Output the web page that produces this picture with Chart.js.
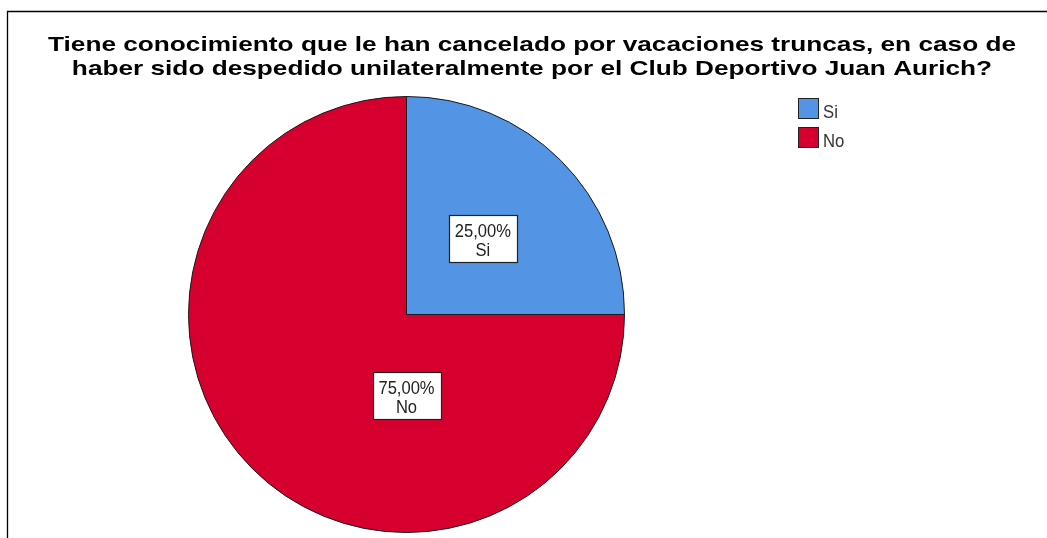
<!DOCTYPE html>
<html>
<head>
<meta charset="utf-8">
<script src="https://cdn.jsdelivr.net/npm/chart.js@4"></script>
<style>
html,body{margin:0;padding:0;background:#fff;}
#wrap{width:1047px;height:538px;position:relative;}
</style>
</head>
<body>
<div id="wrap"><canvas id="c" width="1047" height="538"></canvas></div>
<script>
const titleLines = [
  "Tiene conocimiento que le han cancelado por vacaciones truncas, en caso de",
  "haber sido despedido unilateralmente por el Club Deportivo Juan Aurich?"
];
const categories = ["Si", "No"];
const percentValues = [25.00, 75.00];
const sliceColors = ["#5394E4", "#D6002F"];

function fmtPct(v){ return v.toFixed(2).replace('.', ',') + '%'; }

const decorPlugin = {
  id: 'decor',
  afterDraw(chart) {
    const ctx = chart.ctx;
    ctx.save();
    // frame (top & left lines)
    ctx.strokeStyle = '#000';
    ctx.lineWidth = 1.3;
    ctx.beginPath();
    ctx.moveTo(7.5, 538);
    ctx.lineTo(7.5, 11.5);
    ctx.lineTo(1047, 11.5);
    ctx.stroke();

    // title
    ctx.fillStyle = '#000';
    ctx.font = 'bold 21px "Liberation Sans", Arial, sans-serif';
    ctx.textBaseline = 'alphabetic';
    ctx.textAlign = 'center';
    const w1 = ctx.measureText(titleLines[0]).width;
    const sx = 968 / w1;
    const baselines = [51, 75];
    titleLines.forEach((t, i) => {
      ctx.save();
      ctx.translate(532, baselines[i]);
      ctx.scale(sx, 1);
      ctx.fillText(t, 0, 0);
      ctx.restore();
    });

    // legend
    ctx.textAlign = 'left';
    ctx.font = '19px "Liberation Sans", Arial, sans-serif';
    categories.forEach((c, i) => {
      const y = 98.5 + i * 29;
      ctx.fillStyle = sliceColors[i];
      ctx.fillRect(798.5, y, 20, 20);
      ctx.strokeStyle = '#222';
      ctx.lineWidth = 1;
      ctx.strokeRect(798.5, y, 20, 20);
      ctx.fillStyle = '#333';
      ctx.save();
      ctx.translate(823, y + 19.5);
      ctx.scale(0.88, 1);
      ctx.fillText(c, 0, 0);
      ctx.restore();
    });

    // data labels
    const meta = chart.getDatasetMeta(0);
    const place = [{mid: true, frac: 0.495}, {angle: Math.PI / 2, frac: 0.372}];
    ctx.font = '18px "Liberation Sans", Arial, sans-serif';
    ctx.textAlign = 'center';
    meta.data.forEach((arc, i) => {
      const p = arc.getProps(['x', 'y', 'startAngle', 'endAngle', 'outerRadius'], true);
      const a = place[i].mid ? (p.startAngle + p.endAngle) / 2 : place[i].angle;
      const cx = p.x + Math.cos(a) * p.outerRadius * place[i].frac;
      const cy = p.y + Math.sin(a) * p.outerRadius * place[i].frac;
      const l1 = fmtPct(percentValues[i]);
      const l2 = categories[i];
      const bw = 68, bh = 47;
      const bx = Math.round(cx - bw / 2) + 0.5, by = Math.round(cy - bh / 2) + 0.5;
      ctx.fillStyle = '#fff';
      ctx.fillRect(bx, by, bw, bh);
      ctx.strokeStyle = '#222';
      ctx.lineWidth = 1.2;
      ctx.strokeRect(bx, by, bw, bh);
      ctx.fillStyle = '#222';
      [l1, l2].forEach((t, k) => {
        ctx.save();
        ctx.translate(cx, cy - 1.5 + k * 19);
        ctx.scale(0.92, 1);
        ctx.fillText(t, 0, 0);
        ctx.restore();
      });
    });
    ctx.restore();
  }
};

new Chart(document.getElementById('c'), {
  type: 'pie',
  data: {
    labels: categories,
    datasets: [{
      data: percentValues,
      backgroundColor: sliceColors,
      borderColor: '#1a1a1a',
      borderWidth: 1,
      hoverOffset: 0
    }]
  },
  options: {
    responsive: false,
    animation: false,
    events: [],
    layout: { padding: { left: 188, right: 422, top: 96, bottom: 5 } },
    plugins: {
      legend: { display: false },
      title: { display: false },
      tooltip: { enabled: false }
    }
  },
  plugins: [decorPlugin]
});
</script>
</body>
</html>
